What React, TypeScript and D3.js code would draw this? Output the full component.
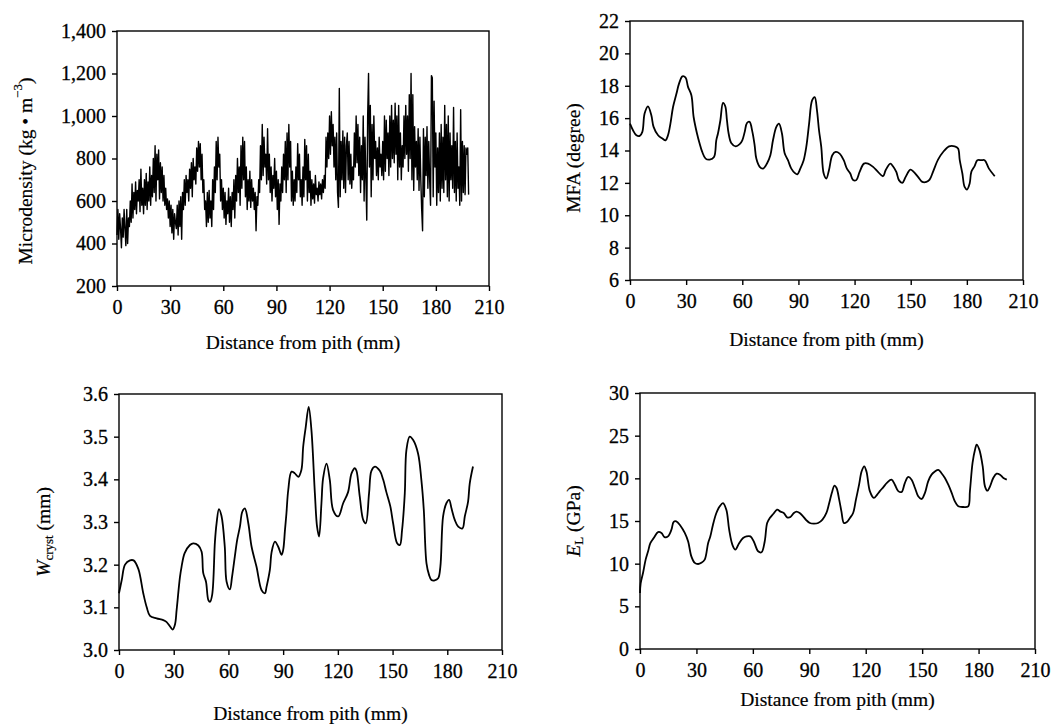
import React, { useEffect, useRef } from "react";
import * as d3 from "d3";

// x-axis ticks shared by all four panels
const distTicks = [0, 30, 60, 90, 120, 150, 180, 210];

// microdensity, sampled every 0.5 mm from the pith
const densityStep = 0.5;
const densityValues = [
  440, 560, 420, 540, 470, 380, 520, 430, 560, 470,
  390, 560, 400, 520, 480, 600, 500, 680, 520, 640,
  560, 690, 540, 650, 600, 700, 550, 750, 580, 660,
  540, 700, 580, 730, 560, 690, 600, 760, 580, 720,
  620, 800, 640, 860, 600, 820, 700, 840, 610, 780,
  640, 760, 600, 720, 580, 660, 560, 610, 520, 600,
  480, 580, 450, 560, 420, 540, 500, 470, 580, 440,
  600, 480, 620, 420, 640, 560, 700, 580, 720, 640,
  700, 600, 750, 660, 780, 620, 800, 700, 760, 680,
  850, 740, 880, 760, 870, 700, 820, 640, 700, 560,
  600, 480, 640, 500, 650, 520, 600, 480, 700, 560,
  760, 640, 880, 700, 900, 760, 820, 600, 700, 560,
  660, 520, 640, 490, 600, 540, 660, 500, 620, 480,
  640, 560, 700, 520, 720, 600, 800, 640, 760, 580,
  860, 660, 900, 700, 880, 620, 760, 560, 700, 600,
  740, 570, 700, 600, 660, 560, 640, 460, 620, 580,
  700, 640, 860, 700, 960, 720, 900, 760, 820, 680,
  940, 700, 820, 640, 760, 600, 720, 660, 800, 620,
  740, 560, 700, 490, 680, 600, 760, 640, 820, 700,
  880, 640, 920, 700, 960, 760, 880, 600, 740, 580,
  700, 600, 760, 640, 870, 700, 820, 620, 700, 580,
  760, 620, 890, 700, 860, 600, 820, 640, 740, 580,
  700, 610, 680, 590, 720, 630, 660, 600, 690, 630,
  680, 610, 700, 640, 720, 660, 900, 760, 920, 800,
  1000, 820, 1020, 860, 960, 760, 900, 700, 920, 640,
  570, 1130, 620, 880, 700, 930, 660, 900, 640, 860,
  920, 700, 880, 680, 820, 660, 760, 700, 920, 760,
  1000, 780, 960, 720, 900, 640, 860, 700, 1000, 600,
  900, 700, 510, 1000, 1200, 760, 1050, 620, 960, 700,
  1000, 800, 880, 720, 850, 700, 900, 760, 820, 720,
  880, 700, 1000, 740, 980, 800, 920, 720, 1000, 760,
  1050, 800, 980, 780, 1060, 820, 1000, 700, 1050, 760,
  920, 700, 860, 760, 1000, 800, 1050, 820, 1000, 740,
  1100, 800, 1200, 700, 1100, 650, 950, 760, 880, 700,
  940, 650, 900, 700, 560, 460, 940, 620, 900, 720,
  950, 660, 880, 700, 580, 1190, 1180, 620, 1070, 760,
  920, 580, 850, 640, 920, 600, 960, 660, 900, 640,
  1050, 700, 960, 620, 1000, 600, 920, 700, 860, 660,
  1040, 640, 880, 600, 920, 660, 760, 580, 1030, 600,
  880, 640, 860, 630, 850, 820, 850, 630,
];

// microfibril angle
const mfaDist = [
  0, 1.6, 3.4, 5.2, 6.6, 7.8, 9.6, 11.4, 12.6, 15, 17.3, 19, 20.3, 21.6, 23, 24.8,
  26.2, 28, 29.7, 31, 32.8, 34, 35.8, 37.2, 38.6, 40.4, 42.6, 44.9, 46.1, 47, 48.3,
  49.7, 50.9, 51.8, 52.7, 54.1, 56.5, 58.6, 60, 61.3, 62.5, 63.9, 65.4, 66.6, 67.5,
  69.3, 71.1, 73.2, 75, 76.4, 78.2, 79.6, 81.2, 82.6, 84.4, 86.2, 88, 89.4, 91, 92.8,
  94.2, 95.7, 97.3, 98.7, 99.9, 101, 102.2, 103.5, 104.9, 106.3, 108.1, 109.9, 112,
  114.2, 115.9, 117.7, 119.2, 120.9, 122.7, 125, 127.2, 129.9, 132.5, 135.2, 136.6,
  139.1, 140.5, 142.3, 143.7, 145.5, 147.3, 149.8, 151.6, 153.9, 156.2, 158.4, 160.1,
  161.9, 164.6, 167.3, 170.5, 173.5, 175.3, 176.2, 177.6, 178.8, 180.1, 181.5, 182.4,
  184.2, 185.6, 187.8, 189.5, 191.8, 194.9,
];
const mfaValues = [
  15.66, 15.25, 14.94, 14.9, 15.15, 16.28, 16.73, 16.18, 15.46, 14.94, 14.74, 14.63,
  14.94, 15.66, 16.69, 17.5, 18.13, 18.58, 18.5, 17.93, 17.41, 16.07, 15.05, 14.43,
  13.91, 13.5, 13.44, 13.6, 14.63, 15.05, 15.87, 16.94, 16.73, 15.87, 15.05, 14.47,
  14.26, 14.39, 14.63, 15.15, 15.7, 15.77, 15.15, 14.32, 13.5, 12.99, 12.88, 13.2,
  13.71, 14.63, 15.46, 15.66, 15.05, 13.85, 13.4, 12.88, 12.62, 12.53, 12.88, 13.4,
  14.22, 15.66, 17.1, 17.3, 16.49, 15.25, 14.22, 12.58, 12.27, 12.78, 13.71, 13.91,
  13.81, 13.4, 12.88, 12.58, 12.17, 12.17, 12.68, 13.19, 13.19, 12.99, 12.68, 12.41,
  12.78, 13.19, 13.03, 12.68, 12.17, 12.0, 12.37, 12.82, 12.68, 12.37, 12.06, 12.06,
  12.2, 12.68, 13.44, 13.91, 14.26, 14.26, 14.12, 13.4, 12.58, 11.75, 11.59, 11.96,
  12.68, 13.05, 13.4, 13.4, 13.4, 12.88, 12.41,
];

// crystallite width
const wDist = [
  0, 1.5, 3.3, 6, 8, 10.6, 13.3, 15.2, 17, 20.6, 24.3, 26, 28, 29.4, 30.7, 31.6, 33.4,
  34.3, 36, 38.9, 40.7, 43.5, 45.3, 46.2, 47.7, 49, 49.9, 51.1, 52.6, 53.5, 54.8, 56.2,
  58, 59, 60.8, 62, 63.5, 64.8, 66.3, 67.6, 69, 70.9, 72.7, 75.4, 78.2, 80, 80.9, 82.7,
  83.7, 85.5, 87.3, 89.1, 90, 91, 91.8, 92.8, 94.6, 96.4, 98.3, 100, 101, 102.4, 104,
  105.5, 107.4, 108.6, 109.7, 111, 111.9, 113.8, 115.6, 117.4, 120.2, 122.9, 125.6,
  127.5, 129.3, 130.2, 132, 133.9, 135.3, 137.1, 138.4, 140.3, 143, 144.8, 146.6,
  148.8, 150.3, 152.5, 154, 155.2, 156.7, 157.6, 159.4, 161.3, 164, 165.8, 167.1,
  168.6, 170, 171.3, 173.1, 175, 176.2, 177.7, 179.5, 181, 182.3, 184.1, 186, 188.3,
  189.6, 191.4, 192.3, 194.1,
];
const wValues = [
  3.133, 3.164, 3.2, 3.21, 3.21, 3.19, 3.133, 3.1, 3.08, 3.074, 3.07, 3.066, 3.055,
  3.048, 3.06, 3.094, 3.17, 3.195, 3.227, 3.246, 3.25, 3.245, 3.23, 3.18, 3.16, 3.117,
  3.113, 3.13, 3.254, 3.297, 3.33, 3.314, 3.242, 3.16, 3.142, 3.172, 3.219, 3.258,
  3.289, 3.324, 3.332, 3.297, 3.242, 3.195, 3.14, 3.133, 3.148, 3.187, 3.23, 3.254,
  3.242, 3.223, 3.234, 3.281, 3.32, 3.375, 3.418, 3.414, 3.406, 3.422, 3.477, 3.523,
  3.57, 3.516, 3.367, 3.289, 3.266, 3.344, 3.402, 3.437, 3.398, 3.328, 3.313, 3.344,
  3.37, 3.414, 3.426, 3.42, 3.36, 3.305, 3.297, 3.367, 3.42, 3.43, 3.42, 3.4, 3.37,
  3.336, 3.297, 3.25, 3.246, 3.281, 3.367, 3.469, 3.5, 3.492, 3.46, 3.398, 3.33, 3.203,
  3.176, 3.164, 3.163, 3.168, 3.195, 3.313, 3.344, 3.352, 3.332, 3.305, 3.289, 3.285,
  3.313, 3.348, 3.39, 3.43,
];

// longitudinal modulus of elasticity
const eDist = [
  0, 0.35, 1.6, 3, 4.3, 5.5, 7.3, 9.6, 11.4, 13.1, 14.9, 16.7, 17.9, 19.3, 21.5, 23.8,
  25.6, 27.3, 29.1, 30.9, 32.6, 34.4, 36.2, 37.4, 38.8, 40.6, 42.4, 44.1, 45.9, 47.4,
  49.1, 50.7, 52.7, 54.8, 56.6, 58.7, 60.5, 62.8, 64.6, 66.3, 67.6, 69, 70.8, 72.9,
  74.7, 76.4, 78.2, 80, 81.8, 83.2, 84.9, 86.7, 88.5, 90.3, 92.4, 94.7, 97, 99.1,
  100.6, 102, 103.4, 104.5, 105.9, 107.1, 108.4, 109.8, 111.6, 113.3, 114.8, 116.5,
  117.8, 119.2, 120.4, 122.2, 124.3, 126.1, 127.5, 129.3, 131.4, 133.7, 135.5, 137.3,
  139.1, 140.8, 142.6, 144.4, 146.2, 147.9, 149.7, 151.5, 153.2, 155, 156.8, 158.6,
  160.3, 162.1, 163.9, 165.7, 167.4, 169.2, 171.9, 174.5, 175.4, 176.8, 178.1, 179,
  180.4, 182.2, 183.4, 184.7, 186.1, 187.8, 189.6, 191.4, 193.2, 195,
];
const eValues = [
  6.56, 7.7, 8.9, 10.47, 11.45, 12.4, 13, 13.7, 13.6, 13.1, 13.2, 13.98, 14.9, 14.96,
  14.45, 13.6, 12.6, 10.86, 10.1, 9.96, 10.1, 10.47, 12.4, 13.2, 14.57, 15.94, 16.72,
  17.1, 16.33, 13.98, 12.23, 11.64, 12.4, 13, 13.2, 13.2, 12.6, 11.45, 11.33, 12.6,
  14.77, 15.35, 15.82, 16.33, 16.1, 15.94, 15.43, 15.47, 15.94, 16.1, 15.94, 15.55,
  15.08, 14.77, 14.7, 14.77, 15.16, 15.94, 17.1, 18.3, 19.14, 18.87, 17.5, 16.1, 14.77,
  14.84, 15.35, 15.94, 17.5, 19.3, 20.8, 21.4, 20.8, 18.5, 17.7, 18.1, 18.5, 18.95,
  19.5, 19.84, 19.25, 18.5, 18.4, 19.45, 20.16, 19.84, 18.87, 17.9, 17.58, 18.3, 19.65,
  20.43, 20.8, 21, 20.6, 20.04, 19.25, 18.3, 17.3, 16.72, 16.64, 16.72, 18.5, 21.8,
  23.36, 23.95, 23.36, 21.4, 19.06, 18.55, 19.06, 20.04, 20.55, 20.43, 20.04, 19.84,
];

const FONT = "'Liberation Serif', 'Times New Roman', serif";
const INK = "#000";

const App = () => {
  const ref = useRef(null);

  useEffect(() => {
    const svg = d3.select(ref.current);
    svg.selectAll("*").remove();

    const panels = [
      {
        box: [117, 489, 31, 286],
        yDomain: [200, 1400],
        yTicks: d3.range(200, 1401, 200),
        yFmt: d3.format(","),
        xs: densityValues.map((_, i) => i * densityStep),
        ys: densityValues,
        lw: 1.4,
        xTitleY: 349,
        yTitle: [25, 171],
        label: "density",
      },
      {
        box: [630, 1023, 21, 280],
        yDomain: [6, 22],
        yTicks: d3.range(6, 23, 2),
        yFmt: d3.format("d"),
        xs: mfaDist,
        ys: mfaValues,
        lw: 1.8,
        xTitleY: 346,
        yTitle: [573, 158],
        label: "mfa",
      },
      {
        box: [119, 502, 394, 650],
        yDomain: [3.0, 3.6],
        yTicks: d3.range(0, 7).map((i) => 3 + i * 0.1),
        yFmt: d3.format(".1f"),
        xs: wDist,
        ys: wValues,
        lw: 1.8,
        xTitleY: 720,
        yTitle: [43, 532],
        label: "w",
      },
      {
        box: [640, 1035, 393, 649],
        yDomain: [0, 30],
        yTicks: d3.range(0, 31, 5),
        yFmt: d3.format("d"),
        xs: eDist,
        ys: eValues,
        lw: 1.8,
        xTitleY: 706,
        yTitle: [573, 521],
        label: "e",
      },
    ];

    panels.forEach((p) => {
      const [l, r, t, b] = p.box;
      const x = d3.scaleLinear().domain([0, 210]).range([l, r]);
      const y = d3.scaleLinear().domain(p.yDomain).range([b, t]);
      const g = svg.append("g");

      g.append("rect")
        .attr("x", l).attr("y", t)
        .attr("width", r - l).attr("height", b - t)
        .attr("fill", "none")
        .attr("stroke", INK)
        .attr("stroke-width", 1.4);

      const line = d3.line()
        .x((d) => x(d[0]))
        .y((d) => y(d[1]));
      if (p.label !== "density") line.curve(d3.curveCatmullRom.alpha(0.5));

      g.append("path")
        .datum(p.xs.map((v, i) => [v, p.ys[i]]))
        .attr("d", line)
        .attr("fill", "none")
        .attr("stroke", INK)
        .attr("stroke-width", p.lw)
        .attr("stroke-linejoin", "round");

      const xAxis = g.append("g")
        .attr("transform", `translate(0,${b})`)
        .call(d3.axisBottom(x).tickValues(distTicks).tickSize(5).tickPadding(9));
      const yAxis = g.append("g")
        .attr("transform", `translate(${l},0)`)
        .call(d3.axisLeft(y).tickValues(p.yTicks).tickFormat(p.yFmt).tickSize(5).tickPadding(6));

      [xAxis, yAxis].forEach((a) => {
        a.select(".domain").remove();
        a.selectAll("line").attr("stroke", INK).attr("stroke-width", 1.4);
        a.selectAll("text")
          .attr("font-family", FONT)
          .attr("font-size", 20)
          .attr("fill", INK)
          .attr("stroke", INK)
          .attr("stroke-width", 0.3);
      });

      g.append("text")
        .attr("x", (l + r) / 2)
        .attr("y", p.xTitleY)
        .attr("text-anchor", "middle")
        .attr("font-family", FONT)
        .attr("font-size", 19.5)
        .attr("fill", INK)
        .attr("stroke", INK)
        .attr("stroke-width", 0.2)
        .text("Distance from pith (mm)");

      const yt = g.append("text")
        .attr("transform", `translate(${p.yTitle[0]},${p.yTitle[1]}) rotate(-90)`)
        .attr("text-anchor", "middle")
        .attr("dominant-baseline", "central")
        .attr("font-family", FONT)
        .attr("font-size", 19.5)
        .attr("fill", INK)
        .attr("stroke", INK)
        .attr("stroke-width", 0.2);

      if (p.label === "density") {
        yt.append("tspan").text("Microdensity (kg \u2022 m");
        yt.append("tspan").attr("dy", -8).attr("font-size", 13).text("\u22123");
        yt.append("tspan").attr("dy", 8).text(")");
      } else if (p.label === "mfa") {
        yt.text("MFA (degree)");
      } else if (p.label === "w") {
        yt.append("tspan").attr("font-style", "italic").text("W");
        yt.append("tspan").attr("dy", 5).attr("font-size", 13).text("cryst");
        yt.append("tspan").attr("dy", -5).text(" (mm)");
      } else {
        yt.append("tspan").attr("font-style", "italic").text("E");
        yt.append("tspan").attr("dy", 5).attr("font-size", 13).text("L");
        yt.append("tspan").attr("dy", -5).text(" (GPa)");
      }
    });
  }, []);

  return (
    <svg
      ref={ref}
      width={1055}
      height={725}
      style={{ position: "absolute", left: 0, top: 0, background: "#fff" }}
    />
  );
};

export default App;
